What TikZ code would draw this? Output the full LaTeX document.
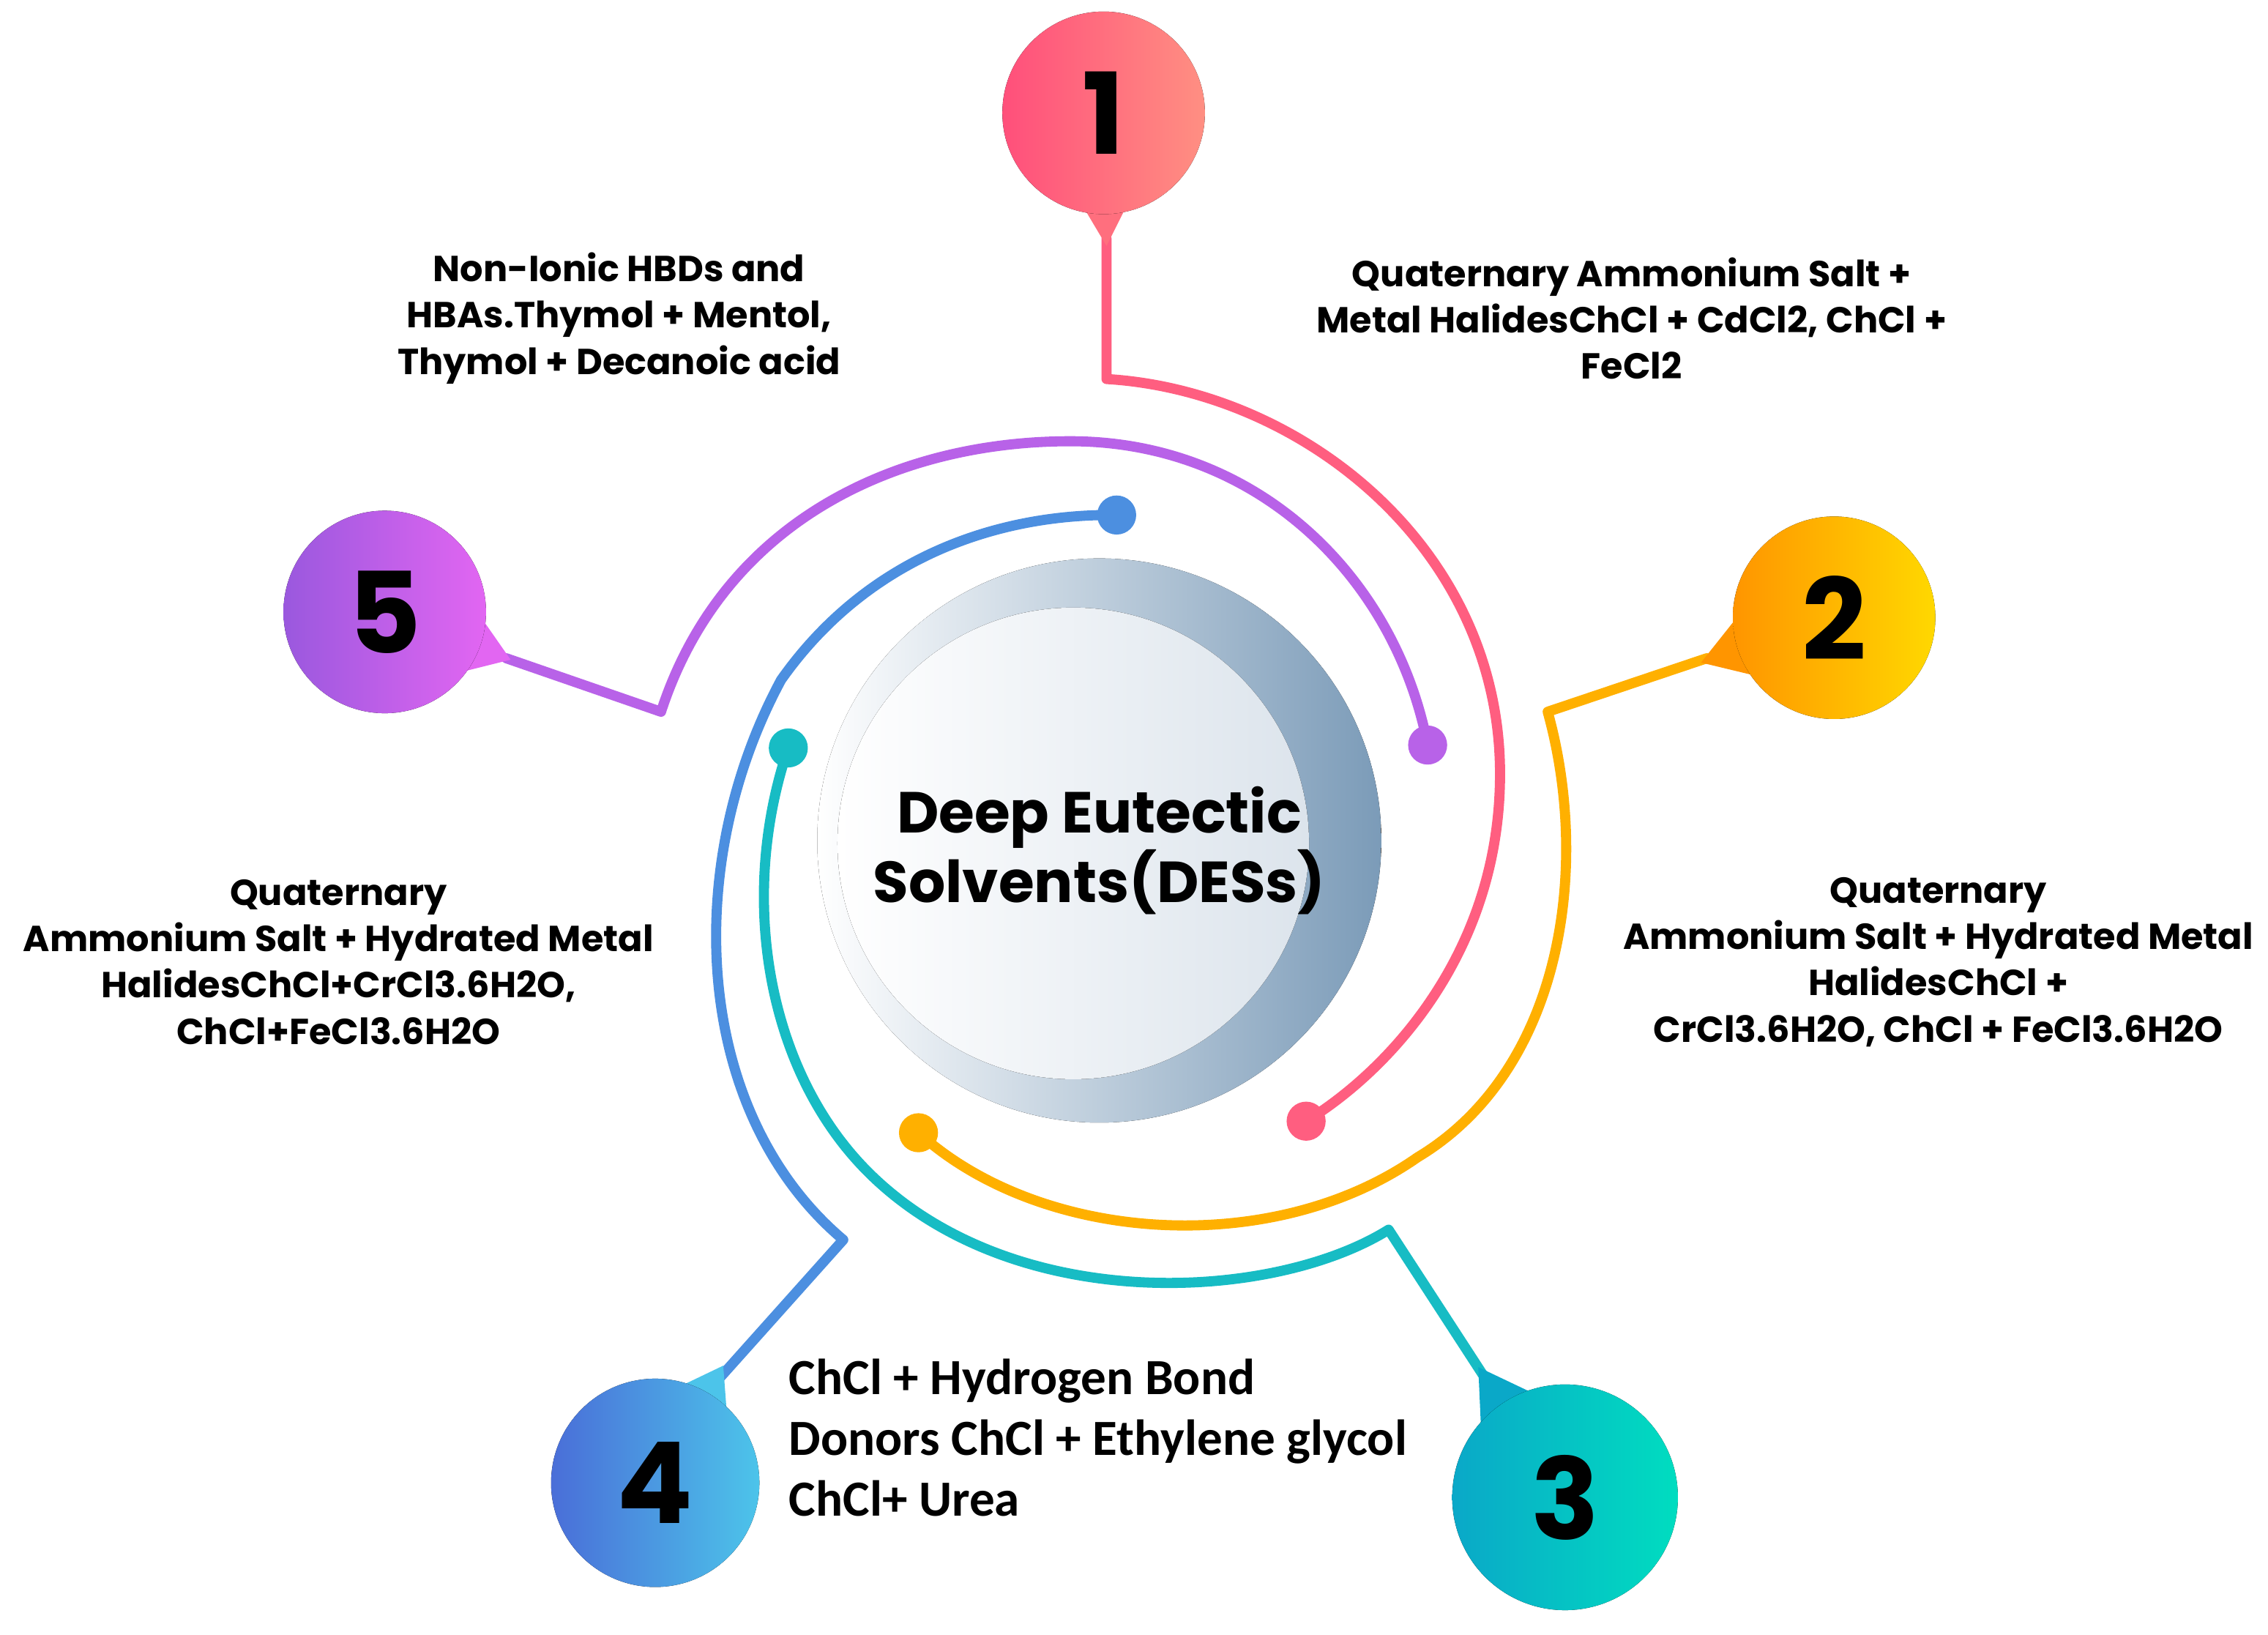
\documentclass[tikz,border=0pt]{standalone}
\usepackage{fontspec}
\setmainfont{Poppins}
\newfontfamily\carl{Carlito}
\begin{document}
\begin{tikzpicture}[x=1pt,y=-1pt,
  arc/.style={line width=7pt,line cap=round,line join=round},
  lab/.style={font=\bfseries\fontsize{25}{32}\selectfont,align=center,text=black},
  num/.style={font=\bfseries\fontsize{78}{78}\selectfont,text=black},
  dot/.style={circle,minimum size=27pt,inner sep=0pt}]
\useasboundingbox (0,0) rectangle (1568,1130);
\definecolor{pk}{HTML}{FF5E80}\definecolor{pkA}{HTML}{FF4F7B}\definecolor{pkB}{HTML}{FF8F82}
\definecolor{pu}{HTML}{B862E8}\definecolor{puA}{HTML}{9A58DE}\definecolor{puB}{HTML}{E266F2}
\definecolor{bl}{HTML}{4C8FE0}\definecolor{blA}{HTML}{4A6ED8}\definecolor{blB}{HTML}{4CC4EA}
\definecolor{te}{HTML}{17BCC4}\definecolor{teA}{HTML}{0AA8C8}\definecolor{teB}{HTML}{00DDC0}
\definecolor{or}{HTML}{FFB000}\definecolor{orA}{HTML}{FF9500}\definecolor{orB}{HTML}{FFD800}
\definecolor{steel}{HTML}{7B9BB8}\definecolor{pale}{HTML}{DCE4EC}
% centre
\fill[left color=white,right color=steel] (760,581) circle (195);
\fill[left color=white,right color=pale] (742,583) circle (163);
\node[font=\bfseries\fontsize{40}{48}\selectfont,align=center] (c) at (760,588) {Deep Eutectic\\Solvents(DESs)};
% arcs
\draw[arc,pk] (765,165) -- (765,262) .. controls (900,270) and (1040,380) .. (1037,540) .. controls (1035,660) and (960,740) .. (903,775);
\draw[arc,pu] (350,455) -- (457,492) .. controls (500,360) and (620,305) .. (740,305) .. controls (870,305) and (965,400) .. (987,515);
\draw[arc,bl] (498,952) -- (583,857) .. controls (480,770) and (470,600) .. (540,470) .. controls (600,385) and (690,355) .. (772,356);
\draw[arc,te] (1025,950) -- (960,850) .. controls (880,900) and (700,910) .. (600,810) .. controls (530,740) and (510,620) .. (545,517);
\draw[arc,or] (1180,455) -- (1070,492) .. controls (1100,600) and (1080,740) .. (980,800) .. controls (880,870) and (720,860) .. (635,783);
% dots
\node[dot,fill=pk] (d1) at (903,775) {};
\node[dot,fill=pu] (d5) at (987,515) {};
\node[dot,fill=bl] (d4) at (772,356) {};
\node[dot,fill=te] (d3) at (545,517) {};
\node[dot,fill=or] (d2) at (635,783) {};
% pins
\fill[pkA!50!pkB] (740,128) -- (765,170) -- (786,128) -- cycle;
\fill[left color=pkA,right color=pkB] (763,78) circle (70);
\node[num] (p1) at (763,78) {1};
\fill[orA] (1230,471) -- (1176,458) -- (1211,414) -- cycle;
\fill[left color=orA,right color=orB] (1268,427) circle (70);
\node[num] (p2) at (1268,427) {2};
\fill[teA] (1083,974) -- (1022,945) -- (1025,1012) -- cycle;
\fill[left color=teA,right color=teB] (1082,1035) circle (78);
\node[num] (p3) at (1082,1035) {3};
\fill[blB] (504,997) -- (500,944) -- (452,967) -- cycle;
\fill[left color=blA,right color=blB] (453,1025) circle (72);
\node[num] (p4) at (453,1025) {4};
\fill[puB] (301,469) -- (353,456) -- (323,413) -- cycle;
\fill[left color=puA,right color=puB] (266,423) circle (70);
\node[num] (p5) at (266,423) {5};
% labels
\node[lab] (l5) at (428,220) {Non-Ionic HBDs and\\HBAs.Thymol + Mentol,\\Thymol + Decanoic acid};
\node[lab] (l1) at (1128,220) {Quaternary Ammonium Salt +\\Metal HalidesChCl + CdCl2, ChCl +\\FeCl2};
\node[lab] (l2) at (1340,665) {Quaternary\\Ammonium Salt + Hydrated Metal\\HalidesChCl +\\CrCl3.6H2O, ChCl + FeCl3.6H2O};
\node[lab] (l4) at (234,665) {Quaternary\\Ammonium Salt + Hydrated Metal\\HalidesChCl+CrCl3.6H2O,\\ChCl+FeCl3.6H2O};
\node[font=\carl\bfseries\fontsize{35}{42}\selectfont,align=left,anchor=north west] (l3) at (542,936) {ChCl + Hydrogen Bond\\Donors ChCl + Ethylene glycol\\ChCl+ Urea};
\end{tikzpicture}
\end{document}
